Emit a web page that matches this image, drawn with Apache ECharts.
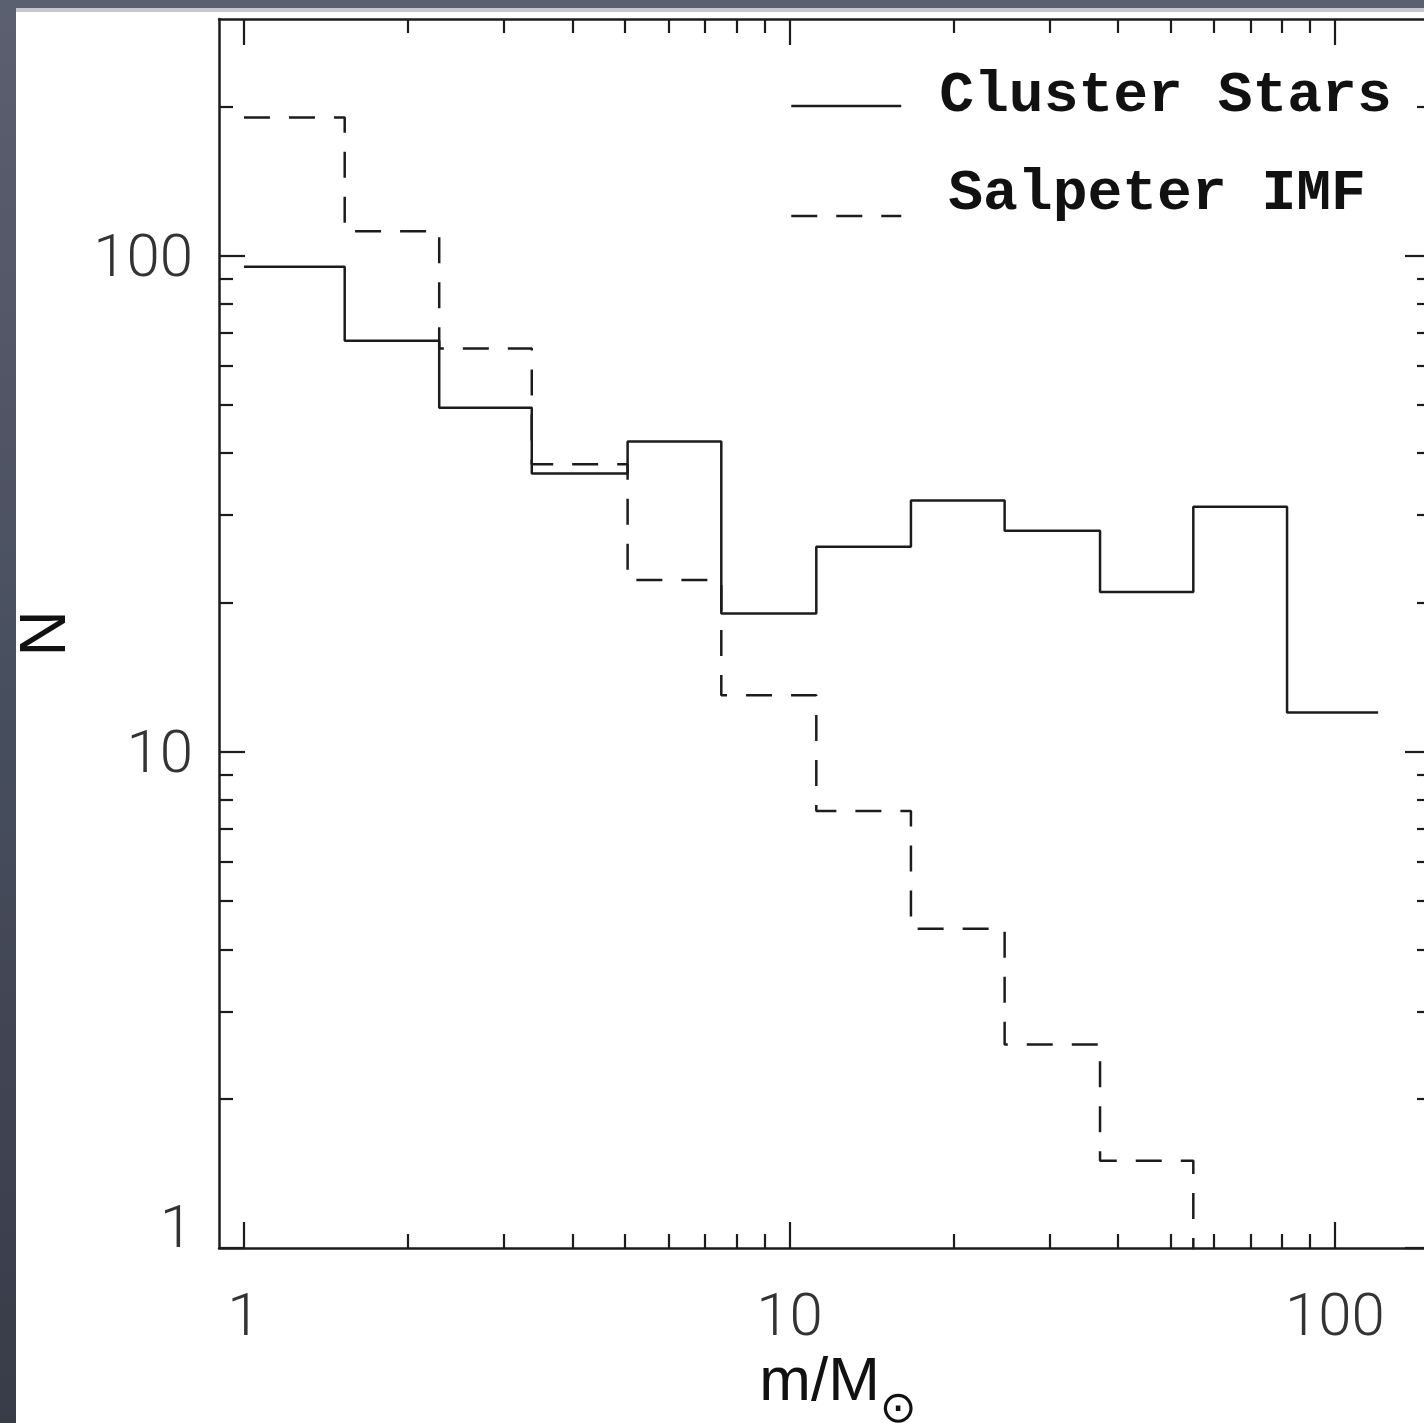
<!DOCTYPE html>
<html>
<head>
<meta charset="utf-8">
<script src="https://cdn.jsdelivr.net/npm/echarts@6/dist/echarts.min.js"></script>
<style>
  html, body { margin: 0; width: 100%; height: 100%; overflow: hidden; }
  body { background: linear-gradient(180deg, #5a6070 0%, #474e5d 50%, #363c48 100%); }
  #main {
    position: absolute; left: 16px; top: 8px;
    width: 1420px; height: 1424px;
    background: #fff; border-top: 4px solid #c4c7cc; box-sizing: border-box;
  }
</style>
</head>
<body>
<div id="main"></div>
<script>
// histogram bin edges (m/Msun) and counts per bin
const binEdges = [1, 1.53, 2.28, 3.37, 5.05, 7.5, 11.2, 16.7, 24.8, 37.1, 55, 81.7, 120];
const clusterCounts = [95, 67.4, 49.4, 36.4, 42.2, 19, 25.9, 32.1, 27.9, 21, 31.2, 12];
const salpeterCounts = [190, 112, 65, 38, 22.2, 13, 7.6, 4.4, 2.57, 1.5, 0.85, 0.5];

const xMajor = [1, 10, 100];
const xMinor = [2, 3, 4, 5, 6, 7, 8, 9, 20, 30, 40, 50, 60, 70, 80, 90];
const yMajor = [1, 10, 100];
const yMinor = [2, 3, 4, 5, 6, 7, 8, 9, 20, 30, 40, 50, 60, 70, 80, 90, 200];

const ink = '#1c1c1c';
const labelFont = { fontFamily: 'Roboto, Liberation Sans, sans-serif', fontWeight: 300, fontSize: 60, color: '#333' };
const legendFont = { fontFamily: 'Liberation Mono, monospace', fontWeight: 'bold', fontSize: 58, lineHeight: 60, color: '#111' };

// step points: each bin value held until the next edge
function steps(counts) {
    const pts = counts.map((c, i) => [binEdges[i], c]);
    pts.push([binEdges[counts.length], counts[counts.length - 1]]);
    return pts;
}

function axis(type, position, ticks, len, major, extra) {
    return Object.assign({
        type: 'log', logBase: 10, position: position,
        min: type === 'x' ? 0.9 : 1, max: type === 'x' ? 150 : 300,
        axisLine: { show: major, onZero: false, lineStyle: { color: ink, width: 2.5 } },
        axisTick: { show: true, inside: true, length: len, customValues: ticks, lineStyle: { color: ink, width: 2.2 } },
        axisLabel: { show: false },
        splitLine: { show: false },
        minorTick: { show: false }
    }, extra || {});
}

function legendFor(name, top, pad) {
    return {
        data: [name], left: 774, top: top, orient: 'vertical', padding: 0,
        itemWidth: 110, itemHeight: 14,
        itemStyle: { opacity: 0 },
        lineStyle: { width: 2.5, color: ink },
        formatter: n => '{t|' + n + '}',
        textStyle: { rich: { t: Object.assign({ padding: pad }, legendFont) } }
    };
}

const chart = echarts.init(document.getElementById('main'));

chart.setOption({
    animation: false,
    backgroundColor: '#fff',
    grid: { left: 203, top: 7, width: 1212, height: 1229, outerBoundsMode: 'none', containLabel: false },
    legend: [
        legendFor('Cluster Stars', 55, [0, 0, 20, 33]),
        legendFor('Salpeter IMF', 153, [0, 0, 44, 42])
    ],
    xAxis: [
        axis('x', 'bottom', xMajor, 26, true, {
            name: '{a|m/M}{b|⊙}', nameLocation: 'middle', nameGap: 100, nameMoveOverlap: false,
            nameTextStyle: {
                padding: [0, 0, 0, 26],
                rich: {
                    a: { fontFamily: 'Liberation Sans, sans-serif', fontSize: 62, lineHeight: 70, color: '#111' },
                    b: { fontFamily: 'DejaVu Sans, sans-serif', fontSize: 44, lineHeight: 46, color: '#111', padding: [56, 0, 0, 0] }
                }
            },
            axisLabel: Object.assign({ show: true, customValues: xMajor, margin: 42 }, labelFont)
        }),
        axis('x', 'bottom', xMinor, 14, false),
        axis('x', 'top', xMajor, 26, true),
        axis('x', 'top', xMinor, 14, false)
    ],
    yAxis: [
        axis('y', 'left', yMajor, 26, true, {
            name: 'N', nameLocation: 'middle', nameGap: 140, nameRotate: 90, nameMoveOverlap: false,
            nameTextStyle: { fontFamily: 'Liberation Sans, sans-serif', fontSize: 64, color: '#111' },
            axisLabel: Object.assign({
                show: true, customValues: yMajor, margin: 26,
                formatter: v => v === 1 ? '{one|1}' : '{n|' + v + '}',
                rich: {
                    one: Object.assign({ padding: [0, 0, 32, 0] }, labelFont),
                    n: Object.assign({ padding: [10, 0, 0, 0] }, labelFont)
                }
            }, labelFont)
        }),
        axis('y', 'left', yMinor, 14, false),
        axis('y', 'right', yMajor, 26, true),
        axis('y', 'right', yMinor, 14, false)
    ],
    series: [
        {
            name: 'Cluster Stars', type: 'line', step: 'end',
            xAxisIndex: 0, yAxisIndex: 0,
            symbol: 'none', clip: true,
            lineStyle: { color: ink, width: 2.5 },
            itemStyle: { color: ink },
            data: steps(clusterCounts)
        },
        {
            name: 'Salpeter IMF', type: 'line', step: 'end',
            xAxisIndex: 0, yAxisIndex: 0,
            symbol: 'none', clip: true,
            lineStyle: { color: ink, width: 2.5, type: [26, 19] },
            itemStyle: { color: ink },
            data: steps(salpeterCounts)
        }
    ]
});

window.onresize = () => chart.resize();
</script>
</body>
</html>
